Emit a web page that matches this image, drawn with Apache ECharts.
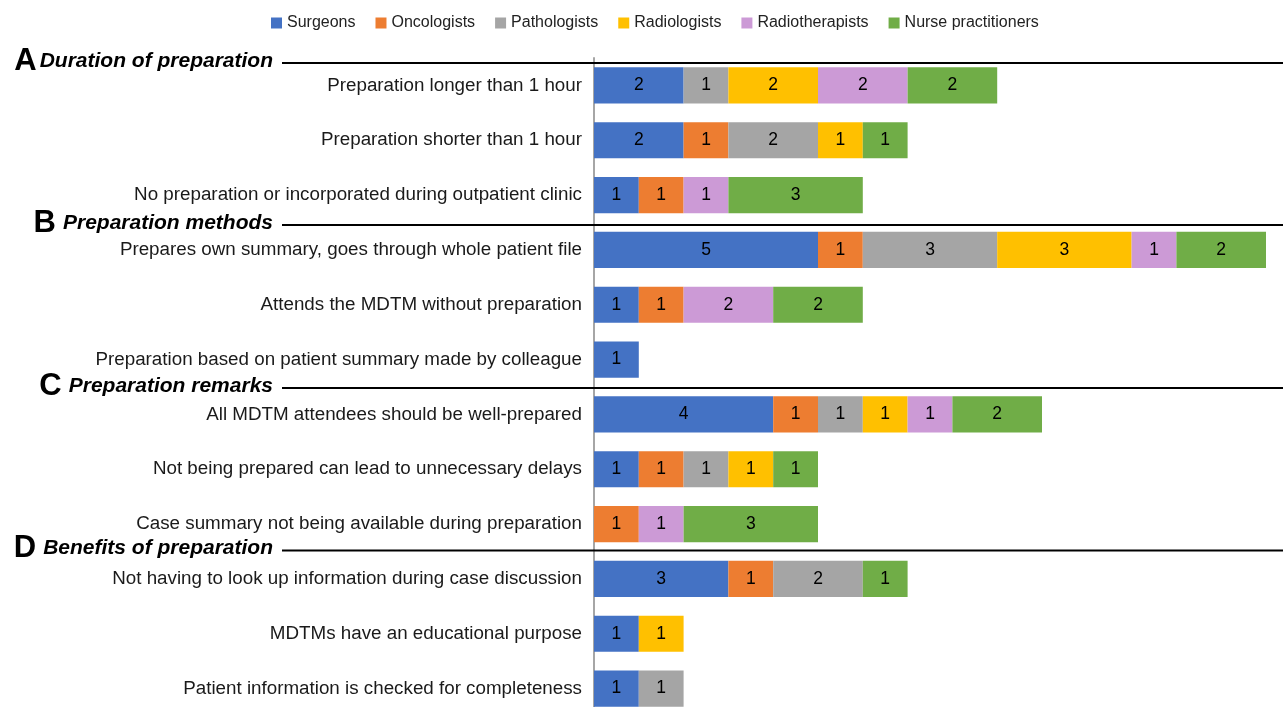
<!DOCTYPE html>
<html>
<head>
<meta charset="utf-8">
<script src="https://cdn.jsdelivr.net/npm/echarts@6/dist/echarts.min.js"></script>
<style>
html,body{margin:0;padding:0;background:#fff;}
#chart{width:1283px;height:707px;}
</style>
</head>
<body>
<div id="chart"></div>
<script>
var categories = [
  'Preparation longer than 1 hour',
  'Preparation shorter than 1 hour',
  'No preparation or incorporated during outpatient clinic',
  'Prepares own summary, goes through whole patient file',
  'Attends the MDTM without preparation',
  'Preparation based on patient summary made by colleague',
  'All MDTM attendees should be well-prepared',
  'Not being prepared can lead to unnecessary delays',
  'Case summary not being available during preparation',
  'Not having to look up information during case discussion',
  'MDTMs have an educational purpose',
  'Patient information is checked for completeness'
];
var seriesNames = ['Surgeons', 'Oncologists', 'Pathologists', 'Radiologists', 'Radiotherapists', 'Nurse practitioners'];
var surgeons        = [2, 2, 1, 5, 1, 1, 4, 1, 0, 3, 1, 1];
var oncologists     = [0, 1, 1, 1, 1, 0, 1, 1, 1, 1, 0, 0];
var pathologists    = [1, 2, 0, 3, 0, 0, 1, 1, 0, 2, 0, 1];
var radiologists    = [2, 1, 0, 3, 0, 0, 1, 1, 0, 0, 1, 0];
var radiotherapists = [2, 0, 1, 1, 2, 0, 1, 0, 1, 0, 0, 0];
var nurses          = [2, 1, 3, 2, 2, 0, 2, 1, 3, 1, 0, 0];
var sections = [
  { letter: 'A', title: 'Duration of preparation' },
  { letter: 'B', title: 'Preparation methods' },
  { letter: 'C', title: 'Preparation remarks' },
  { letter: 'D', title: 'Benefits of preparation' }
];

var colors = ['#4472C4', '#ED7D31', '#A5A5A5', '#FFC000', '#CC9AD6', '#70AD47'];
var values = [surgeons, oncologists, pathologists, radiologists, radiotherapists, nurses];

var chart = echarts.init(document.getElementById('chart'), null, { renderer: 'canvas' });

var series = seriesNames.map(function (name, i) {
  return {
    name: name,
    type: 'bar',
    stack: 'total',
    barCategoryGap: '34%',
    itemStyle: { color: colors[i] },
    label: {
      show: true,
      position: 'inside',
      color: '#000',
      fontSize: 17.5,
      fontFamily: 'Liberation Sans, Arial, sans-serif',
      formatter: function (p) { return p.value ? String(p.value) : ''; }
    },
    data: values[i].map(function (v) { return v === 0 ? null : v; })
  };
});

var headerY = [63, 225, 388, 550.5];
var graphics = [];
sections.forEach(function (s, i) {
  graphics.push({
    type: 'line',
    shape: { x1: 282, y1: headerY[i], x2: 1283, y2: headerY[i] },
    style: { stroke: '#000', lineWidth: 2 },
    z: 10
  });
  graphics.push({
    type: 'text',
    x: 273,
    y: headerY[i] - 2,
    style: {
      text: '{l|' + s.letter + '}{t|' + s.title + '}',
      align: 'right',
      verticalAlign: 'middle',
      rich: {
        l: { fontSize: 31, fontWeight: 'bold', fontFamily: 'Liberation Sans, Arial, sans-serif', fill: '#000', padding: [0, i === 0 ? 3 : 7, 0, 0] },
        t: { fontSize: 21, fontWeight: 'bold', fontStyle: 'italic', fontFamily: 'Liberation Sans, Arial, sans-serif', fill: '#000' }
      }
    },
    z: 10
  });
});

chart.setOption({
  animation: false,
  legend: {
    data: seriesNames,
    left: 266,
    top: 10,
    itemWidth: 11,
    itemHeight: 11,
    itemGap: 20,
    icon: 'rect',
    textStyle: { fontSize: 16, color: '#222', fontFamily: 'Liberation Sans, Arial, sans-serif' }
  },
  grid: {
    left: 594,
    top: 58,
    width: 672,
    height: 658,
    containLabel: false,
    outerBoundsMode: 'none'
  },
  xAxis: {
    type: 'value',
    min: 0,
    max: 15,
    show: false,
    splitLine: { show: false }
  },
  yAxis: {
    type: 'category',
    data: categories,
    inverse: true,
    axisLine: { show: true, lineStyle: { color: '#A6A6A6', width: 2 } },
    axisTick: { show: false },
    axisLabel: {
      margin: 12,
      fontSize: 18.8,
      color: '#1a1a1a',
      fontFamily: 'Liberation Sans, Arial, sans-serif'
    }
  },
  series: series,
  graphic: graphics
});
</script>
</body>
</html>
